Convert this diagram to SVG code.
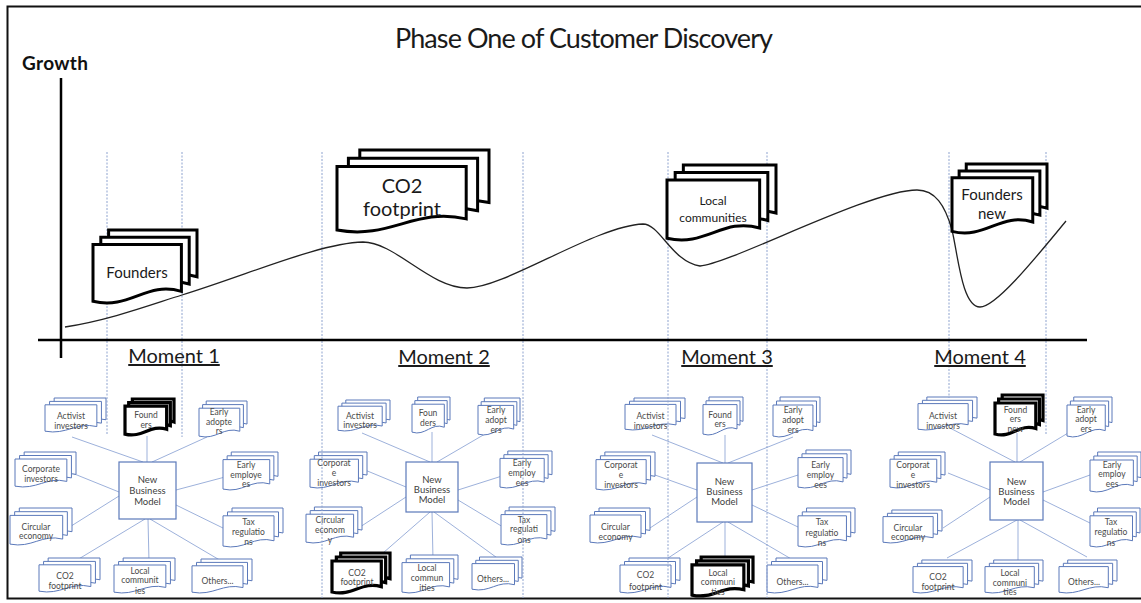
<svg xmlns="http://www.w3.org/2000/svg" xmlns:xlink="http://www.w3.org/1999/xlink" width="1141" height="603" viewBox="0 0 1141 603">
<defs>
<style>
.sm{fill:#fff;stroke:#5b79ba;stroke-width:1}
.big{fill:#fff;stroke:#000;stroke-width:3}
.blk{fill:#fff;stroke:#000;stroke-width:3.2}
.box{fill:#fff;stroke:#5b79ba;stroke-width:1.2}
.t{font-family:Lato,"Liberation Sans",sans-serif;font-size:8.5px;fill:#4a4a4a;text-anchor:middle}
.bt{font-family:Lato,"Liberation Sans",sans-serif;font-size:9.5px;fill:#404040;text-anchor:middle}
.lt{font-family:Lato,"Liberation Sans",sans-serif;fill:#1a1a1a;text-anchor:middle}
.mom{font-family:Lato,"Liberation Sans",sans-serif;font-size:20px;fill:#1a1a1a;text-anchor:middle;text-decoration:underline}
.conn line{stroke:#9db1db;stroke-width:1}
.vd line{stroke:#8ea3cf;stroke-width:1;stroke-dasharray:2 1.5}
</style>
<g id="stk">
<path vector-effect="non-scaling-stroke" d="M0.15,0H1V0.64C0.66,0.496 0.507,0.896 0.15,0.776Z"/>
<path vector-effect="non-scaling-stroke" d="M0.075,0.1H0.925V0.74C0.585,0.596 0.432,0.996 0.075,0.876Z"/>
<path vector-effect="non-scaling-stroke" d="M0,0.2H0.85V0.84C0.51,0.696 0.357,1.096 0,0.976Z"/>
</g>
</defs>
<rect width="1141" height="603" fill="#fff"/>
<rect x="7.5" y="6.5" width="1145" height="592" fill="none" stroke="#111" stroke-width="2"/>
<text x="584" y="48" class="lt" font-size="27" textLength="378">Phase One of Customer Discovery</text>
<text x="22" y="70" font-family="Lato,'Liberation Sans',sans-serif" font-size="19" font-weight="bold" fill="#111" textLength="66">Growth</text>

<g id="connectors" class="conn">
<line x1="143" y1="462" x2="72" y2="437"/>
<line x1="147" y1="462" x2="147" y2="436"/>
<line x1="152" y1="462" x2="207" y2="437"/>
<line x1="119" y1="492" x2="72" y2="473"/>
<line x1="176" y1="490" x2="225" y2="477"/>
<line x1="119" y1="496" x2="68" y2="528"/>
<line x1="176" y1="505" x2="225" y2="529"/>
<line x1="145" y1="519" x2="77" y2="560"/>
<line x1="148" y1="519" x2="149" y2="562"/>
<line x1="150" y1="519" x2="223" y2="562"/>

<line x1="430" y1="462" x2="362" y2="433"/>
<line x1="432" y1="462" x2="432" y2="432"/>
<line x1="437" y1="462" x2="485" y2="434"/>
<line x1="406" y1="487" x2="365" y2="470"/>
<line x1="458" y1="490" x2="502" y2="476"/>
<line x1="406" y1="497" x2="360" y2="527"/>
<line x1="458" y1="500" x2="503" y2="527"/>
<line x1="430" y1="512" x2="375" y2="560"/>
<line x1="432" y1="512" x2="433" y2="560"/>
<line x1="434" y1="512" x2="500" y2="560"/>

<line x1="723" y1="463" x2="652" y2="435"/>
<line x1="725" y1="463" x2="725" y2="435"/>
<line x1="728" y1="463" x2="793" y2="437"/>
<line x1="697" y1="490" x2="655" y2="475"/>
<line x1="752" y1="490" x2="798" y2="475"/>
<line x1="697" y1="497" x2="650" y2="528"/>
<line x1="752" y1="505" x2="798" y2="527"/>
<line x1="723" y1="522" x2="662" y2="562"/>
<line x1="725" y1="522" x2="725" y2="560"/>
<line x1="728" y1="522" x2="793" y2="560"/>

<line x1="1015" y1="462" x2="950" y2="428"/>
<line x1="1017" y1="462" x2="1017" y2="433"/>
<line x1="1020" y1="462" x2="1073" y2="430"/>
<line x1="990" y1="490" x2="948" y2="473"/>
<line x1="1043" y1="492" x2="1090" y2="475"/>
<line x1="990" y1="497" x2="943" y2="528"/>
<line x1="1043" y1="500" x2="1090" y2="523"/>
<line x1="1017" y1="520" x2="947" y2="558"/>
<line x1="1018" y1="520" x2="1018" y2="560"/>
<line x1="1020" y1="520" x2="1087" y2="557"/>
</g>

<!-- Hub 1 -->
<g id="h1-box"><rect class="box" x="119" y="462" width="57" height="57"/><text class="bt" x="147.5" y="483">New</text><text class="bt" x="147.5" y="494">Business</text><text class="bt" x="147.5" y="505">Model</text></g>
<g id="h1-activist"><use href="#stk" class="sm" transform="translate(45 398) scale(61 34)"/><text class="t" x="71" y="419">Activist</text><text class="t" x="71" y="429">investors</text></g>
<g id="h1-founders"><use href="#stk" class="blk" transform="translate(125 399) scale(49 36)"/><text class="t" x="146" y="418">Found</text><text class="t" x="146" y="428">ers</text></g>
<g id="h1-adopters"><use href="#stk" class="sm" transform="translate(199 401) scale(48 36)"/><text class="t" x="219" y="415">Early</text><text class="t" x="219" y="425">adopte</text><text class="t" x="219" y="434">rs</text></g>
<g id="h1-corporate"><use href="#stk" class="sm" transform="translate(15 452) scale(61 35)"/><text class="t" x="41" y="472">Corporate</text><text class="t" x="41" y="482">investors</text></g>
<g id="h1-employees"><use href="#stk" class="sm" transform="translate(223 452) scale(55 38)"/><text class="t" x="246" y="468">Early</text><text class="t" x="246" y="478">employe</text><text class="t" x="246" y="487">es</text></g>
<g id="h1-circular"><use href="#stk" class="sm" transform="translate(10 508) scale(62 37)"/><text class="t" x="36" y="530">Circular</text><text class="t" x="36" y="539">economy</text></g>
<g id="h1-tax"><use href="#stk" class="sm" transform="translate(223 508) scale(60 39)"/><text class="t" x="248.5" y="525">Tax</text><text class="t" x="248.5" y="535">regulatio</text><text class="t" x="248.5" y="545">ns</text></g>
<g id="h1-co2"><use href="#stk" class="sm" transform="translate(39 558) scale(61 34)"/><text class="t" x="65" y="579">CO2</text><text class="t" x="65" y="589">footprint</text></g>
<g id="h1-local"><use href="#stk" class="sm" transform="translate(114 558) scale(61 35)"/><text class="t" x="140" y="574">Local</text><text class="t" x="140" y="583">communit</text><text class="t" x="140" y="594">ies</text></g>
<g id="h1-others"><use href="#stk" class="sm" transform="translate(192 559) scale(60 34)"/><text class="t" x="217.5" y="584">Others...</text></g>

<!-- Hub 2 -->
<g id="h2-box"><rect class="box" x="406" y="462" width="52" height="50"/><text class="bt" x="432" y="483">New</text><text class="bt" x="432" y="493">Business</text><text class="bt" x="432" y="503">Model</text></g>
<g id="h2-activist"><use href="#stk" class="sm" transform="translate(338 400) scale(52 31)"/><text class="t" x="360" y="419">Activist</text><text class="t" x="360" y="428">investors</text></g>
<g id="h2-founders"><use href="#stk" class="sm" transform="translate(412 397) scale(38 36)"/><text class="t" x="428" y="416">Foun</text><text class="t" x="428" y="426">ders</text></g>
<g id="h2-adopters"><use href="#stk" class="sm" transform="translate(478 398) scale(42 37)"/><text class="t" x="496" y="413">Early</text><text class="t" x="496" y="423">adopt</text><text class="t" x="496" y="433">ers</text></g>
<g id="h2-corporate"><use href="#stk" class="sm" transform="translate(310 452) scale(57 36)"/><text class="t" x="334" y="466">Corporat</text><text class="t" x="334" y="476">e</text><text class="t" x="334" y="486">investors</text></g>
<g id="h2-employees"><use href="#stk" class="sm" transform="translate(500 451) scale(52 37)"/><text class="t" x="522" y="466">Early</text><text class="t" x="522" y="476">employ</text><text class="t" x="522" y="486">ees</text></g>
<g id="h2-circular"><use href="#stk" class="sm" transform="translate(306 507) scale(56 36)"/><text class="t" x="330" y="523">Circular</text><text class="t" x="330" y="533">econom</text><text class="t" x="330" y="543">y</text></g>
<g id="h2-tax"><use href="#stk" class="sm" transform="translate(501 507) scale(54 38)"/><text class="t" x="524" y="523">Tax</text><text class="t" x="524" y="532">regulati</text><text class="t" x="524" y="543">ons</text></g>
<g id="h2-co2"><use href="#stk" class="blk" transform="translate(332 553) scale(58 40)"/><text class="t" x="357" y="576">CO2</text><text class="t" x="357" y="585">footprint</text></g>
<g id="h2-local"><use href="#stk" class="sm" transform="translate(402 555) scale(56 38)"/><text class="t" x="427" y="571">Local</text><text class="t" x="427" y="581">commun</text><text class="t" x="427" y="591">ities</text></g>
<g id="h2-others"><use href="#stk" class="sm" transform="translate(472 557) scale(50 33)"/><text class="t" x="493" y="582">Others...</text></g>

<!-- Hub 3 -->
<g id="h3-box"><rect class="box" x="697" y="463" width="55" height="59"/><text class="bt" x="724.5" y="485">New</text><text class="bt" x="724.5" y="495">Business</text><text class="bt" x="724.5" y="505">Model</text></g>
<g id="h3-activist"><use href="#stk" class="sm" transform="translate(625 398) scale(60 32)"/><text class="t" x="650.5" y="419">Activist</text><text class="t" x="650.5" y="429">investors</text></g>
<g id="h3-founders"><use href="#stk" class="sm" transform="translate(703 397) scale(40 38)"/><text class="t" x="720" y="418">Found</text><text class="t" x="720" y="427">ers</text></g>
<g id="h3-adopters"><use href="#stk" class="sm" transform="translate(773 397) scale(47 40)"/><text class="t" x="793" y="413">Early</text><text class="t" x="793" y="423">adopt</text><text class="t" x="793" y="433">ers</text></g>
<g id="h3-corporate"><use href="#stk" class="sm" transform="translate(596 452) scale(59 38)"/><text class="t" x="621" y="468">Corporat</text><text class="t" x="621" y="478">e</text><text class="t" x="621" y="488">investors</text></g>
<g id="h3-employees"><use href="#stk" class="sm" transform="translate(798 450) scale(53 38)"/><text class="t" x="820.5" y="468">Early</text><text class="t" x="820.5" y="478">employ</text><text class="t" x="820.5" y="488">ees</text></g>
<g id="h3-circular"><use href="#stk" class="sm" transform="translate(590 508) scale(60 35)"/><text class="t" x="615.5" y="530">Circular</text><text class="t" x="615.5" y="540">economy</text></g>
<g id="h3-tax"><use href="#stk" class="sm" transform="translate(798 508) scale(57 39)"/><text class="t" x="822" y="525">Tax</text><text class="t" x="822" y="536">regulatio</text><text class="t" x="822" y="546">ns</text></g>
<g id="h3-co2"><use href="#stk" class="sm" transform="translate(620 558) scale(60 35)"/><text class="t" x="645.5" y="578">CO2</text><text class="t" x="645.5" y="590">footprint</text></g>
<g id="h3-local"><use href="#stk" class="blk" transform="translate(692 557) scale(61 39)"/><text class="t" x="718" y="576">Local</text><text class="t" x="718" y="585">communi</text><text class="t" x="718" y="595">ties</text></g>
<g id="h3-others"><use href="#stk" class="sm" transform="translate(767 558) scale(60 35)"/><text class="t" x="792.5" y="585">Others...</text></g>

<!-- Hub 4 -->
<g id="h4-box"><rect class="box" x="990" y="462" width="53" height="58"/><text class="bt" x="1016.5" y="485">New</text><text class="bt" x="1016.5" y="495">Business</text><text class="bt" x="1016.5" y="505">Model</text></g>
<g id="h4-activist"><use href="#stk" class="sm" transform="translate(918 397) scale(59 33)"/><text class="t" x="943" y="419">Activist</text><text class="t" x="943" y="429">investors</text></g>
<g id="h4-founders"><use href="#stk" class="blk" transform="translate(995 395) scale(48 40)"/><text class="t" x="1015.4" y="413">Found</text><text class="t" x="1015.4" y="422">ers</text><text class="t" x="1015.4" y="432">new</text></g>
<g id="h4-adopters"><use href="#stk" class="sm" transform="translate(1067 397) scale(45 40)"/><text class="t" x="1086" y="413">Early</text><text class="t" x="1086" y="422">adopt</text><text class="t" x="1086" y="432">ers</text></g>
<g id="h4-corporate"><use href="#stk" class="sm" transform="translate(890 452) scale(55 36)"/><text class="t" x="913" y="468">Corporat</text><text class="t" x="913" y="478">e</text><text class="t" x="913" y="488">investors</text></g>
<g id="h4-employees"><use href="#stk" class="sm" transform="translate(1090 452) scale(51 40)"/><text class="t" x="1112" y="468">Early</text><text class="t" x="1112" y="477">employ</text><text class="t" x="1112" y="487">ees</text></g>
<g id="h4-circular"><use href="#stk" class="sm" transform="translate(883 510) scale(59 33)"/><text class="t" x="908" y="531">Circular</text><text class="t" x="908" y="540">economy</text></g>
<g id="h4-tax"><use href="#stk" class="sm" transform="translate(1090 508) scale(50 39)"/><text class="t" x="1111" y="525">Tax</text><text class="t" x="1111" y="535">regulatio</text><text class="t" x="1111" y="546">ns</text></g>
<g id="h4-co2"><use href="#stk" class="sm" transform="translate(913 560) scale(59 33)"/><text class="t" x="938" y="580">CO2</text><text class="t" x="938" y="590">footprint</text></g>
<g id="h4-local"><use href="#stk" class="sm" transform="translate(985 560) scale(58 33)"/><text class="t" x="1010" y="576">Local</text><text class="t" x="1010" y="586">communi</text><text class="t" x="1010" y="595">ties</text></g>
<g id="h4-others"><use href="#stk" class="sm" transform="translate(1059 560) scale(58 33)"/><text class="t" x="1084" y="585">Others...</text></g>

<g id="guides" class="vd">
<line x1="107" y1="152" x2="107" y2="435"/>
<line x1="182" y1="152" x2="182" y2="437"/>
<line x1="322" y1="152" x2="322" y2="598"/>
<line x1="523" y1="152" x2="523" y2="598"/>
<line x1="668" y1="152" x2="668" y2="598"/>
<line x1="767" y1="152" x2="767" y2="598"/>
<line x1="949" y1="152" x2="949" y2="398"/>
<line x1="1046" y1="152" x2="1046" y2="435"/>
</g>

<g id="axes" stroke="#000" stroke-width="2.5">
<line x1="61" y1="78" x2="61" y2="358"/>
<line x1="38" y1="340" x2="1087" y2="340"/>
</g>

<path id="growth-curve" fill="none" stroke="#222" stroke-width="1.3" d="M65,327 C110,320 150,305 182,295 C250,274 320,243 363,242 C395,242 430,288 467,288 C505,288 595,226 643,224 C660,224 672,262 700,266 C730,264 870,190 917,190 C935,190 945,205 952,230 C958,255 962,307 980,307 C995,307 1030,265 1066,221"/>

<g id="big-founders"><use href="#stk" class="big" transform="translate(93 230) scale(104 73)"/><text class="lt" x="137" y="278" font-size="15">Founders</text></g>
<g id="big-co2"><use href="#stk" class="big" transform="translate(337 150) scale(152 82)"/><text class="lt" x="402" y="193" font-size="20">CO2</text><text class="lt" x="402" y="216" font-size="20">footprint</text></g>
<g id="big-local"><use href="#stk" class="big" transform="translate(667 165) scale(109 75)"/><text class="lt" x="713" y="205" font-size="12">Local</text><text class="lt" x="713" y="222" font-size="12">communities</text></g>
<g id="big-founders-new"><use href="#stk" class="big" transform="translate(952 164) scale(95 69)"/><text class="lt" x="992" y="200" font-size="15">Founders</text><text class="lt" x="992" y="219" font-size="15">new</text></g>

<g id="moments">
<text class="mom" x="174" y="363">Moment 1</text>
<text class="mom" x="444" y="364">Moment 2</text>
<text class="mom" x="727" y="364">Moment 3</text>
<text class="mom" x="980" y="364">Moment 4</text>
</g>
</svg>
